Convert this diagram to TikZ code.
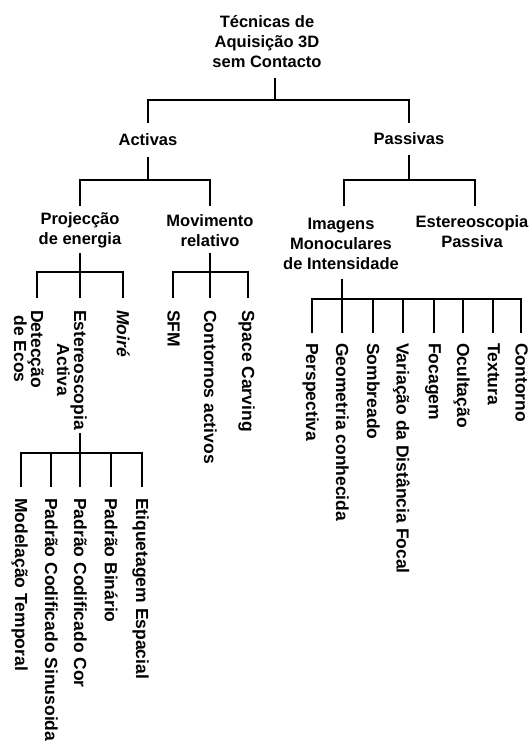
\documentclass[tikz,border=0pt]{standalone}
\usepackage{fontspec}
\setmainfont{Liberation Sans}
\begin{document}
\begin{tikzpicture}[x=1pt,y=-1pt,
  conn/.style={line width=2pt},
  lbl/.style={font=\bfseries\fontsize{16.5}{20}\selectfont, align=center, inner sep=0pt},
  leaf/.style={font=\bfseries\fontsize{17.5}{17}\selectfont, align=center, inner sep=0pt, rotate=-90, anchor=north west}]
\useasboundingbox (0,0) rectangle (532,744);

% inner nodes
\node[lbl] (root) at (267,42) {Técnicas de\\Aquisição 3D\\sem Contacto};
\node[lbl] (act) at (148,140) {Activas};
\node[lbl] (pas) at (409,139) {Passivas};
\node[lbl] (proj) at (80,230.5) {Projecção\\de energia};
\node[lbl] (mov) at (210,230.5) {Movimento\\relativo};
\node[lbl] (img) at (341,243.5) {Imagens\\Monoculares\\de Intensidade};
\node[lbl] (estp) at (472,232) {Estereoscopia\\Passiva};

% leaves under Projeccao de energia / Movimento relativo
\node[leaf] (eco) at (44,310) {Detecção\\de Ecos};
\node[leaf] (esta) at (87,310) {Estereoscopia\\Activa};
\node[leaf] (moi) at (130,310) {\itshape Moiré};
\node[leaf] (sfm) at (180,310) {SFM};
\node[leaf] (cont) at (217,310) {Contornos activos};
\node[leaf] (spc) at (255,310) {Space Carving};

% leaves under Imagens Monoculares
\node[leaf] (per) at (319,343) {Perspectiva};
\node[leaf] (geo) at (349,343) {Geometria conhecida};
\node[leaf] (som) at (380,343) {Sombreado};
\node[leaf] (var) at (410,343) {Variação da Distância Focal};
\node[leaf] (foc) at (441,343) {Focagem};
\node[leaf] (ocu) at (470,343) {Ocultação};
\node[leaf] (tex) at (500,343) {Textura};
\node[leaf] (ctn) at (528,343) {Contorno};

% leaves under Estereoscopia Activa
\node[leaf] (mod) at (28,498) {Modelação Temporal};
\node[leaf] (sin) at (58,498) {Padrão Codificado Sinusoida};
\node[leaf] (cor) at (87,498) {Padrão Codificado Cor};
\node[leaf] (bin) at (118,498) {Padrão Binário};
\node[leaf] (etq) at (149,498) {Etiquetagem Espacial};

% connector anchor coordinates
\coordinate (root-b) at (275,78);   \coordinate (root-j) at (275,100);
\coordinate (act-t) at (148,123);   \coordinate (pas-t) at (409,123);
\coordinate (act-b) at (148,157);   \coordinate (act-j) at (148,180);
\coordinate (proj-t) at (80,206);   \coordinate (mov-t) at (210,206);
\coordinate (pas-b) at (409,155);   \coordinate (pas-j) at (409,180);
\coordinate (img-t) at (344,206);   \coordinate (estp-t) at (475,206);
\coordinate (proj-b) at (80,253);   \coordinate (proj-j) at (80,272);
\coordinate (eco-t) at (37,298);    \coordinate (esta-t) at (80,298);  \coordinate (moi-t) at (123,298);
\coordinate (mov-b) at (210,253);   \coordinate (mov-j) at (210,272);
\coordinate (sfm-t) at (173,298);   \coordinate (cont-t) at (210,298); \coordinate (spc-t) at (248,298);
\coordinate (img-b) at (342,279);   \coordinate (img-j) at (342,299);
\coordinate (per-t) at (312,333);   \coordinate (geo-t) at (342,333);  \coordinate (som-t) at (373,333);
\coordinate (var-t) at (403,333);   \coordinate (foc-t) at (434,333);  \coordinate (ocu-t) at (463,333);
\coordinate (tex-t) at (493,333);   \coordinate (ctn-t) at (521,333);
\coordinate (esta-b) at (80,433);   \coordinate (esta-j) at (80,453);
\coordinate (mod-t) at (21,487);    \coordinate (sin-t) at (51,487);   \coordinate (cor-t) at (80,487);
\coordinate (bin-t) at (111,487);   \coordinate (etq-t) at (142,487);

% connectors
\draw[conn] (root-b) -- (root-j);
\draw[conn] (act-t) |- (pas-t |- root-j) -- (pas-t);

\draw[conn] (act-b) -- (act-j);
\draw[conn] (proj-t) |- (mov-t |- act-j) -- (mov-t);

\draw[conn] (pas-b) -- (pas-j);
\draw[conn] (img-t) |- (estp-t |- pas-j) -- (estp-t);

\draw[conn] (proj-b) -- (proj-j);
\draw[conn] (eco-t) |- (moi-t |- proj-j) -- (moi-t);
\draw[conn] (esta-t) -- (esta-t |- proj-j);

\draw[conn] (mov-b) -- (mov-j);
\draw[conn] (sfm-t) |- (spc-t |- mov-j) -- (spc-t);
\draw[conn] (cont-t) -- (cont-t |- mov-j);

\draw[conn] (img-b) -- (img-j);
\draw[conn] (per-t) |- (ctn-t |- img-j) -- (ctn-t);
\foreach \c in {geo,som,var,foc,ocu,tex}
  \draw[conn] (\c-t) -- (\c-t |- img-j);

\draw[conn] (esta-b) -- (esta-j);
\draw[conn] (mod-t) |- (etq-t |- esta-j) -- (etq-t);
\foreach \c in {sin,cor,bin}
  \draw[conn] (\c-t) -- (\c-t |- esta-j);
\end{tikzpicture}
\end{document}
